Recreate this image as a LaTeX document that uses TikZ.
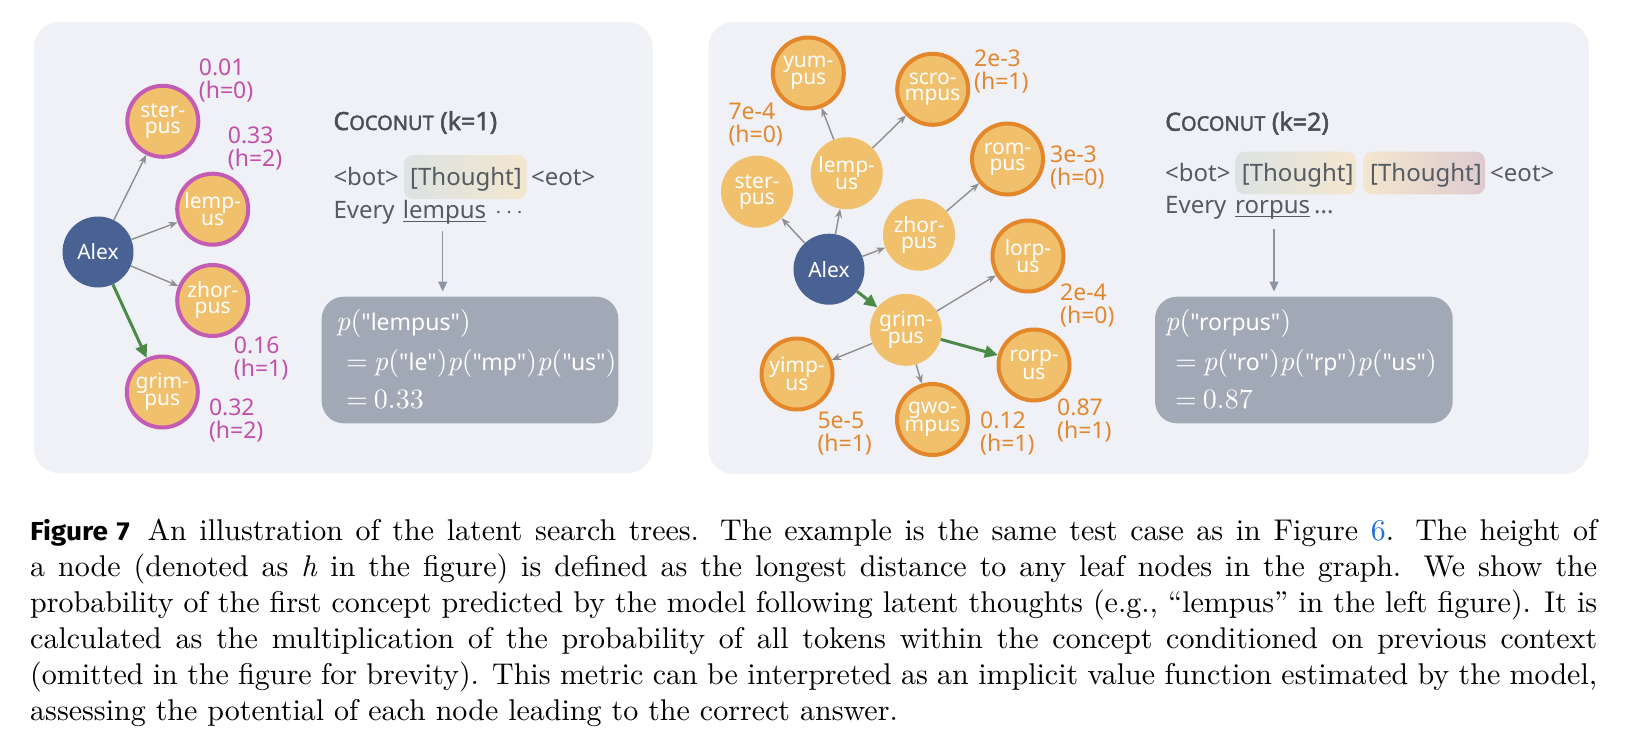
\RequirePackage{fix-cm}
\documentclass[tikz,border=0pt]{standalone}
\usepackage{fontspec}
\setsansfont{Noto Sans}
\newfontfamily\figfont{Fira Sans}[FakeStretch=1.08]
\newfontfamily\titlefont{Noto Sans}[FakeBold=2]
\newfontfamily\qsans{Noto Sans}
\newfontfamily\capserif{lmroman10-regular.otf}[ItalicFont=lmroman10-italic.otf]
\newfontfamily\serifX{lmroman10-regular.otf}
\newfontfamily\serifI{lmroman10-italic.otf}
\usetikzlibrary{arrows.meta}
\definecolor{panelbg}{HTML}{EFF1F6}
\definecolor{nodefill}{HTML}{F0C06C}
\definecolor{magborder}{HTML}{C45CB4}
\definecolor{maglabel}{HTML}{C050A8}
\definecolor{orgborder}{HTML}{E4862A}
\definecolor{orglabel}{HTML}{E3872E}
\definecolor{alexblue}{HTML}{4A6293}
\definecolor{edgegray}{HTML}{8E8E8E}
\definecolor{edgegreen}{HTML}{4A8A46}
\definecolor{boxgray}{HTML}{A2A9B6}
\definecolor{titlegray}{HTML}{4A4F57}
\definecolor{textgray}{HTML}{555B63}
\definecolor{arrowgray}{HTML}{8D95A3}
\definecolor{hlA}{HTML}{DCE3E3}
\definecolor{hlB}{HTML}{F3E6CE}
\definecolor{hlC}{HTML}{DDCBCF}
\definecolor{linkblue}{HTML}{1F6FD8}
\tikzset{
 cnode/.style={circle, fill=nodefill, minimum size=72pt, inner sep=0pt, text=white, align=center, font=\sffamily\fontsize{21}{16}\selectfont},
 magnode/.style={cnode, draw=magborder, line width=4pt, minimum size=71pt},
 orgnode/.style={cnode, draw=orgborder, line width=4pt, minimum size=71pt},
 alexnode/.style={circle, fill=alexblue, minimum size=71pt, inner sep=0pt, text=white, font=\sffamily\fontsize{21}{21}\selectfont},
 gedge/.style={draw=edgegray, line width=1.4pt, -{Stealth[length=9pt,width=7pt]}},
 greenedge/.style={draw=edgegreen, line width=3pt, -{Triangle[length=13pt,width=12pt]}},
 maglbl/.style={anchor=base west, inner sep=0pt, text=maglabel, font=\sffamily\fontsize{23}{24}\selectfont},
 orglbl/.style={maglbl, text=orglabel},
 titletext/.style={anchor=base west, inner sep=0pt, text=titlegray, font=\titlefont},
 toktext/.style={anchor=base west, inner sep=0pt, text=textgray, font=\sffamily\fontsize{24}{28}\selectfont},
 graybox/.style={fill=boxgray, rounded corners=22pt, inner sep=0pt},
 boxtext/.style={anchor=base west, inner sep=0pt, text=white, font=\qsans\fontsize{23}{28}\selectfont},
 downarrow/.style={draw=arrowgray, line width=1.5pt, -{Triangle[length=10pt,width=9pt]}},
}
\newcommand{\cocotitle}[1]{\fontsize{25}{28}\selectfont C\fontsize{20}{28}\selectfont OCONUT\fontsize{25}{28}\selectfont\ (k=#1)}
\newcommand{\sfx}[1]{{\serifX\fontsize{28}{28}\selectfont #1}}
\newcommand{\pq}[1]{{\serifI\fontsize{28}{28}\selectfont p}\sfx{(}"#1"\sfx{)}}
\begin{document}
\begin{tikzpicture}[x=1pt,y=-1pt]
\useasboundingbox (0,0) rectangle (1640,736);
\fill[white] (0,0) rectangle (1640,736);
% panels
\fill[panelbg, rounded corners=25pt] (34,22) rectangle (652.5,473);
\fill[panelbg, rounded corners=25pt] (708.6,22) rectangle (1588.6,474);

% ---------- left tree ----------
\node[alexnode] (alexL) at (98,252) {Alex};
\node[magnode] (sterL) at (162.8,121.3) {ster-\\pus};
\node[magnode] (lempL) at (212.7,209.2) {lemp-\\us};
\node[magnode] (zhorL) at (212.7,300.5) {zhor-\\pus};
\node[magnode] (grimL) at (162.3,392) {grim-\\pus};
\draw[gedge] (alexL) -- (sterL);
\draw[gedge] (alexL) -- (lempL);
\draw[gedge] (alexL) -- (zhorL);
\draw[greenedge] (alexL) -- (grimL);
\node[maglbl] (p1a) at (198.7,75) {0.01};
\node[maglbl] (p1b) at (198.7,98) {(h=0)};
\node[maglbl] (p2a) at (227.7,143.3) {0.33};
\node[maglbl] (p2b) at (227.7,166.3) {(h=2)};
\node[maglbl] (p3a) at (233.7,353.3) {0.16};
\node[maglbl] (p3b) at (233.7,376.3) {(h=1)};
\node[maglbl] (p4a) at (208.8,415) {0.32};
\node[maglbl] (p4b) at (208.8,438) {(h=2)};

% left text
\node[titletext] (titleL) at (333.3,130) {\cocotitle{1}};
\shade[left color=hlA, right color=hlB, rounded corners=9pt] (404,155) rectangle (526.7,199);
\node[toktext] (botL) at (333.3,185) {<bot>};
\node[toktext] (thL) at (410,185) {[Thought]};
\node[toktext] (eotL) at (531,185) {<eot>};
\node[toktext] (evL) at (333.3,218.3) {Every};
\node[toktext] (lemL) at (402.7,218.3) {lempus};
\node[toktext] (dotL) at (495,218.3) {$\cdots$};
\draw[textgray, line width=1.3pt] ([yshift=-3pt]lemL.base west) -- ([yshift=-3pt]lemL.base east);
\node[graybox, minimum width=296.6pt, minimum height=126.6pt] (bx1) at (470,360) {};
\coordinate (s1) at (442.7,231);
\draw[downarrow, shorten >=5pt] (s1) -- (s1 |- bx1.north);
\node[boxtext] (b1a) at (336,330) {\pq{lempus}};
\node[boxtext] (b1b) at (346,370) {\sfx{=}\hspace{6pt}\pq{le}\pq{mp}\pq{us}};
\node[boxtext] (b1c) at (346,408.3) {\sfx{=\hspace{6pt}0.33}};

% ---------- right tree ----------
\node[alexnode] (alexR) at (829,269.2) {Alex};
\node[cnode] (sterR) at (757,191.7) {ster-\\pus};
\node[cnode] (lempR) at (846.7,173.3) {lemp-\\us};
\node[orgnode] (yumR) at (808.3,73) {yum-\\pus};
\node[orgnode] (scroR) at (932.7,89.3) {scro-\\mpus};
\node[orgnode] (romR) at (1007.5,159) {rom-\\pus};
\node[cnode] (zhorR) at (919,234.7) {zhor-\\pus};
\node[orgnode] (lorpR) at (1028,256) {lorp-\\us};
\node[cnode] (grimR) at (905.8,329.8) {grim-\\pus};
\node[orgnode] (rorpR) at (1034,365) {rorp-\\us};
\node[orgnode] (yimpR) at (797,374) {yimp-\\us};
\node[orgnode] (gwoR) at (932.5,419.5) {gwo-\\mpus};
\draw[gedge] (alexR) -- (sterR);
\draw[gedge] (alexR) -- (lempR);
\draw[gedge] (alexR) -- (zhorR);
\draw[gedge] (lempR) -- (yumR);
\draw[gedge] (lempR) -- (scroR);
\draw[gedge] (zhorR) -- (romR);
\draw[gedge] (grimR) -- (lorpR);
\draw[gedge] (grimR) -- (yimpR);
\draw[gedge] (grimR) -- (gwoR);
\draw[greenedge] (alexR) -- (grimR);
\draw[greenedge] (grimR) -- (rorpR);
\node[orglbl] (q1a) at (974,66.5) {2e-3};
\node[orglbl] (q1b) at (974,89.5) {(h=1)};
\node[orglbl] (q2a) at (728.3,119.5) {7e-4};
\node[orglbl] (q2b) at (728.3,142.5) {(h=0)};
\node[orglbl] (q3a) at (1050,162.5) {3e-3};
\node[orglbl] (q3b) at (1050,185.5) {(h=0)};
\node[orglbl] (q4a) at (1060,300) {2e-4};
\node[orglbl] (q4b) at (1060,323) {(h=0)};
\node[orglbl] (q5a) at (1057,415) {0.87};
\node[orglbl] (q5b) at (1057,438) {(h=1)};
\node[orglbl] (q6a) at (980,428) {0.12};
\node[orglbl] (q6b) at (980,451) {(h=1)};
\node[orglbl] (q7a) at (817.3,428) {5e-5};
\node[orglbl] (q7b) at (817.3,451) {(h=1)};

% right text
\node[titletext] (titleR) at (1165,130.7) {\cocotitle{2}};
\shade[left color=hlA, right color=hlB, rounded corners=9pt] (1235.7,151.7) rectangle (1356,194.3);
\shade[left color=hlB, right color=hlC, rounded corners=9pt] (1363.3,151.7) rectangle (1485,194.3);
\node[toktext] (botR) at (1165,181.7) {<bot>};
\node[toktext] (thR1) at (1241.7,181.7) {[Thought]};
\node[toktext] (thR2) at (1370,181.7) {[Thought]};
\node[toktext] (eotR) at (1490,181.7) {<eot>};
\node[toktext] (evR) at (1165,213.3) {Every};
\node[toktext] (rorR) at (1235,213.3) {rorpus};
\node[toktext] (dotR) at (1314,213.3) {...};
\draw[textgray, line width=1.3pt] ([yshift=-3pt]rorR.base west) -- ([yshift=-3pt]rorR.base east);
\node[graybox, minimum width=297.7pt, minimum height=126.6pt] (bx2) at (1303.85,360) {};
\coordinate (s2) at (1274,229.3);
\draw[downarrow, shorten >=5pt] (s2) -- (s2 |- bx2.north);
\node[boxtext] (b2a) at (1165,330) {\pq{rorpus}};
\node[boxtext] (b2b) at (1175,370) {\sfx{=}\hspace{6pt}\pq{ro}\pq{rp}\pq{us}};
\node[boxtext] (b2c) at (1175,408.3) {\sfx{=\hspace{6pt}0.87}};

% ---------- caption ----------
\node[anchor=north west, inner sep=0pt, text width=1567pt, align=justify, font=\capserif\fontsize{30}{36.1}\selectfont] (cap) at (30,518.5)
{{\figfont\bfseries\fontsize{26}{28}\selectfont Figure 7}\hspace{18pt}An illustration of the latent search trees. The example is the same test case as in Figure \textcolor{linkblue}{6}. The height of\linebreak
a node (denoted as \textit{h} in the figure) is defined as the longest distance to any leaf nodes in the graph. We show the\linebreak
probability of the first concept predicted by the model following latent thoughts (e.g., “lempus” in the left figure). It is\linebreak
calculated as the multiplication of the probability of all tokens within the concept conditioned on previous context\linebreak
(omitted in the figure for brevity). This metric can be interpreted as an implicit value function estimated by the model,\linebreak
assessing the potential of each node leading to the correct answer.};
\end{tikzpicture}
\end{document}
